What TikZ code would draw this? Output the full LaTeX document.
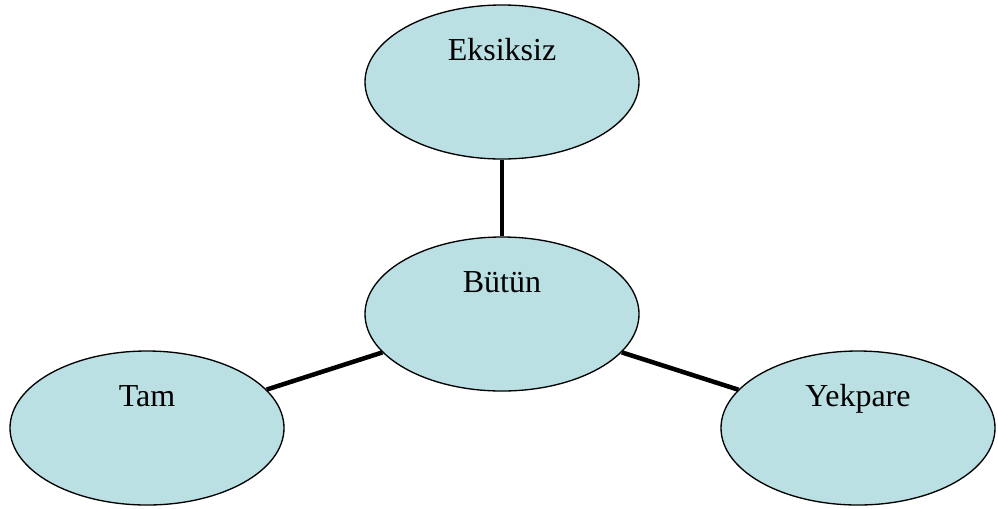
\documentclass[tikz,border=0pt]{standalone}
\usepackage{fontspec}
\setmainfont{Liberation Serif}
\usetikzlibrary{shapes.geometric}
\definecolor{fillblue}{HTML}{BBE0E3}
\tikzset{
  oval/.style={ellipse, draw=black, line width=1pt, fill=fillblue,
    minimum width=205.5pt, minimum height=115.5pt, inner sep=0pt},
  word/.style={anchor=base, font=\fontsize{24}{28}\selectfont, inner sep=0pt},
  link/.style={line width=3.4pt, draw=black}
}
\begin{document}
\begin{tikzpicture}[x=0.75pt,y=-0.75pt]
\useasboundingbox (0,0) rectangle (998,508);
\node[oval] (e) at (502,82) {};
\node[oval] (b) at (502,314) {};
\node[oval] (t) at (147,428) {};
\node[oval] (y) at (858,428) {};
\draw[link] (e) -- (b);
\draw[link] (b) -- (t);
\draw[link] (b) -- (y);
\node[word] (le) at ([yshift=16.5pt]e.center) {Eksiksiz};
\node[word] (lb) at ([yshift=16.5pt]b.center) {Bütün};
\node[word] (lt) at ([yshift=16.5pt]t.center) {Tam};
\node[word] (ly) at ([yshift=16.5pt]y.center) {Yekpare};
\end{tikzpicture}
\end{document}
